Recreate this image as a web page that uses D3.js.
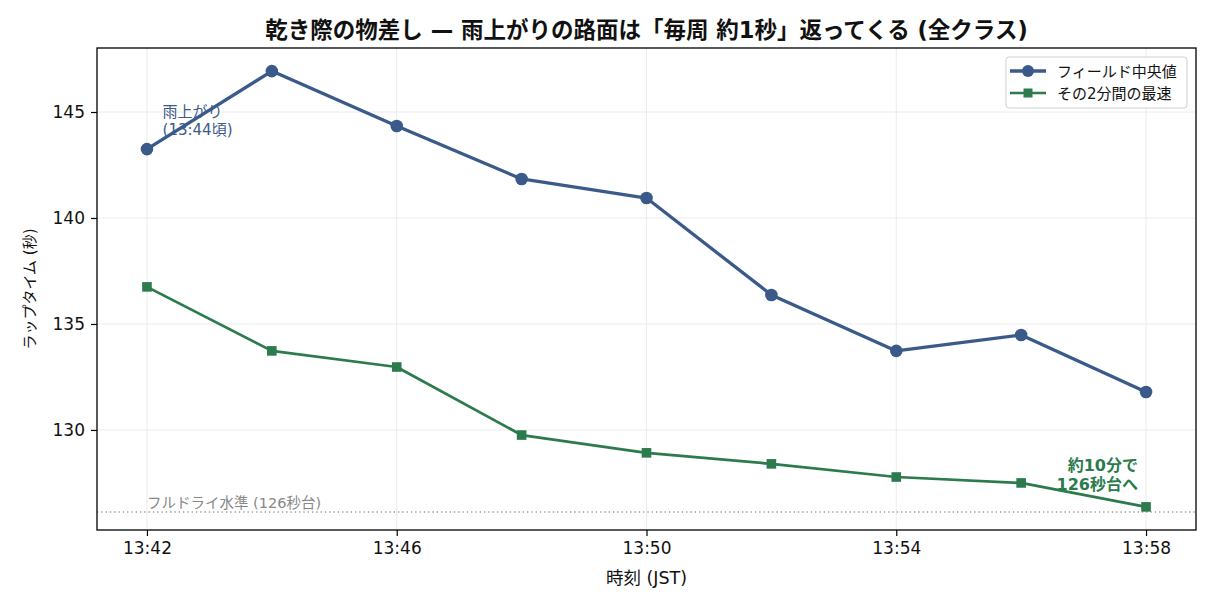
<!DOCTYPE html>
<html>
<head>
<meta charset="utf-8">
<script src="https://d3js.org/d3.v7.min.js"></script>
<style>
  body { margin: 0; background: #fff; }
  text { font-family: "DejaVu Sans", "Noto Sans CJK JP", sans-serif; }
</style>
</head>
<body>
<svg id="chart"></svg>
<script>
// data
var times = ["13:42", "13:44", "13:46", "13:48", "13:50", "13:52", "13:54", "13:56", "13:58"];
var medianLap = [143.25, 146.93, 144.34, 141.84, 140.94, 136.37, 133.73, 134.48, 131.79];
var fastestLap = [136.75, 133.73, 132.97, 129.76, 128.92, 128.40, 127.78, 127.50, 126.37];
var xTickLabels = ["13:42", "13:46", "13:50", "13:54", "13:58"];
var yTicks = [130, 135, 140, 145];
var dryLevel = 126.13;
var seriesNames = ["フィールド中央値", "その2分間の最速"];

var width = 1214, height = 607;
var margin = {top: 48, right: 18, bottom: 77, left: 97};

var blue = "#3a5a8a", green = "#2b7b4d";

// "13:42" -> minutes since midnight
function toMin(s) {
  var p = s.split(":");
  return +p[0] * 60 + +p[1];
}
function fmtMin(m) {
  return Math.floor(m / 60) + ":" + d3.format("02d")(m % 60);
}

var svg = d3.select("#chart")
  .attr("width", width)
  .attr("height", height);

var x = d3.scaleLinear()
  .domain([toMin("13:42") - 0.8, toMin("13:58") + 0.8])
  .range([margin.left, width - margin.right]);

var y = d3.scaleLinear()
  .domain([125.28, 148.02])
  .range([height - margin.bottom, margin.top]);

// grid
var grid = svg.append("g");
grid.selectAll(".gx").data(xTickLabels).enter().append("line")
  .attr("x1", function(d) { return x(toMin(d)); })
  .attr("x2", function(d) { return x(toMin(d)); })
  .attr("y1", margin.top).attr("y2", height - margin.bottom)
  .attr("stroke", "#ebebeb").attr("stroke-width", 1);
grid.selectAll(".gy").data(yTicks).enter().append("line")
  .attr("x1", margin.left).attr("x2", width - margin.right)
  .attr("y1", function(d) { return y(d); })
  .attr("y2", function(d) { return y(d); })
  .attr("stroke", "#ebebeb").attr("stroke-width", 1);

// dry level reference
svg.append("line")
  .attr("x1", margin.left).attr("x2", width - margin.right)
  .attr("y1", y(dryLevel)).attr("y2", y(dryLevel))
  .attr("stroke", "#9a9a9a").attr("stroke-width", 1.3)
  .attr("stroke-dasharray", "1.3,3");
svg.append("text")
  .attr("x", x(toMin("13:42")))
  .attr("y", y(dryLevel) - 4)
  .attr("font-size", 14.5).attr("fill", "#888")
  .text("フルドライ水準 (126秒台)");

// lines
var line = d3.line()
  .x(function(d, i) { return x(toMin(times[i])); })
  .y(function(d) { return y(d); });

svg.append("path").attr("d", line(medianLap))
  .attr("fill", "none").attr("stroke", blue).attr("stroke-width", 3.3)
  .attr("stroke-linejoin", "round");
svg.selectAll(".dot").data(medianLap).enter().append("circle")
  .attr("cx", function(d, i) { return x(toMin(times[i])); })
  .attr("cy", function(d) { return y(d); })
  .attr("r", 6.3).attr("fill", blue);

svg.append("path").attr("d", line(fastestLap))
  .attr("fill", "none").attr("stroke", green).attr("stroke-width", 2.7)
  .attr("stroke-linejoin", "round");
svg.selectAll(".sq").data(fastestLap).enter().append("rect")
  .attr("x", function(d, i) { return x(toMin(times[i])) - 4.8; })
  .attr("y", function(d) { return y(d) - 4.8; })
  .attr("width", 9.6).attr("height", 9.6).attr("fill", green);

// frame
svg.append("rect")
  .attr("x", margin.left).attr("y", margin.top)
  .attr("width", width - margin.left - margin.right)
  .attr("height", height - margin.top - margin.bottom)
  .attr("fill", "none").attr("stroke", "#000").attr("stroke-width", 1.3);

// axes
var xAxis = svg.append("g")
  .attr("transform", "translate(0," + (height - margin.bottom) + ")")
  .call(d3.axisBottom(x).tickValues(xTickLabels.map(toMin)).tickFormat(fmtMin).tickSize(6).tickPadding(6));
var yAxis = svg.append("g")
  .attr("transform", "translate(" + margin.left + ",0)")
  .call(d3.axisLeft(y).tickValues(yTicks).tickSize(6).tickPadding(6));
[xAxis, yAxis].forEach(function(a) {
  a.select(".domain").remove();
  a.selectAll("text").attr("font-size", 17).attr("fill", "#111")
    .style("font-family", "'DejaVu Sans', sans-serif");
  a.selectAll("line").attr("stroke", "#000").attr("stroke-width", 1.2);
});

// titles
svg.append("text")
  .attr("x", (margin.left + width - margin.right) / 2).attr("y", 38)
  .attr("text-anchor", "middle").attr("font-size", 22.5).attr("font-weight", "bold")
  .attr("fill", "#111")
  .text("乾き際の物差し — 雨上がりの路面は「毎周 約1秒」返ってくる (全クラス)");
svg.append("text")
  .attr("x", (margin.left + width - margin.right) / 2).attr("y", 584)
  .attr("text-anchor", "middle").attr("font-size", 17.5).attr("fill", "#111")
  .text("時刻 (JST)");
svg.append("text")
  .attr("transform", "translate(35," + ((margin.top + height - margin.bottom) / 2) + ") rotate(-90)")
  .attr("text-anchor", "middle").attr("font-size", 15).attr("fill", "#111")
  .text("ラップタイム (秒)");

// annotations
var ann1x = x(toMin("13:42") + 0.25);
var ann1 = svg.append("text")
  .attr("font-size", 15).attr("fill", blue);
ann1.append("tspan").attr("x", ann1x).attr("y", y(144.77)).text("雨上がり");
ann1.append("tspan").attr("x", ann1x).attr("dy", 18).text("(13:44頃)");

var ann2x = x(toMin("13:58") - 0.13);
var ann2 = svg.append("text")
  .attr("font-size", 16).attr("font-weight", "bold").attr("fill", green)
  .attr("text-anchor", "end");
ann2.append("tspan").attr("x", ann2x).attr("y", y(128.08)).text("約10分で");
ann2.append("tspan").attr("x", ann2x).attr("dy", 19).text("126秒台へ");

// legend
var lg = svg.append("g").attr("transform", "translate(1006,57)");
lg.append("rect").attr("width", 181).attr("height", 51).attr("rx", 3)
  .attr("fill", "#fff").attr("fill-opacity", 0.85)
  .attr("stroke", "#cfcfcf").attr("stroke-width", 1);
var colors = [blue, green];
seriesNames.forEach(function(name, i) {
  var row = lg.append("g").attr("transform", "translate(0," + (14 + i * 22) + ")");
  row.append("line").attr("x1", 4).attr("x2", 40).attr("y1", 0).attr("y2", 0)
    .attr("stroke", colors[i]).attr("stroke-width", i === 0 ? 3.3 : 2.7);
  if (i === 0) {
    row.append("circle").attr("cx", 22).attr("cy", 0).attr("r", 6).attr("fill", colors[i]);
  } else {
    row.append("rect").attr("x", 17.5).attr("y", -4.5).attr("width", 9).attr("height", 9).attr("fill", colors[i]);
  }
  row.append("text").attr("x", 51).attr("y", 5.5).attr("font-size", 15).attr("fill", "#111")
    .text(name);
});
</script>
</body>
</html>
